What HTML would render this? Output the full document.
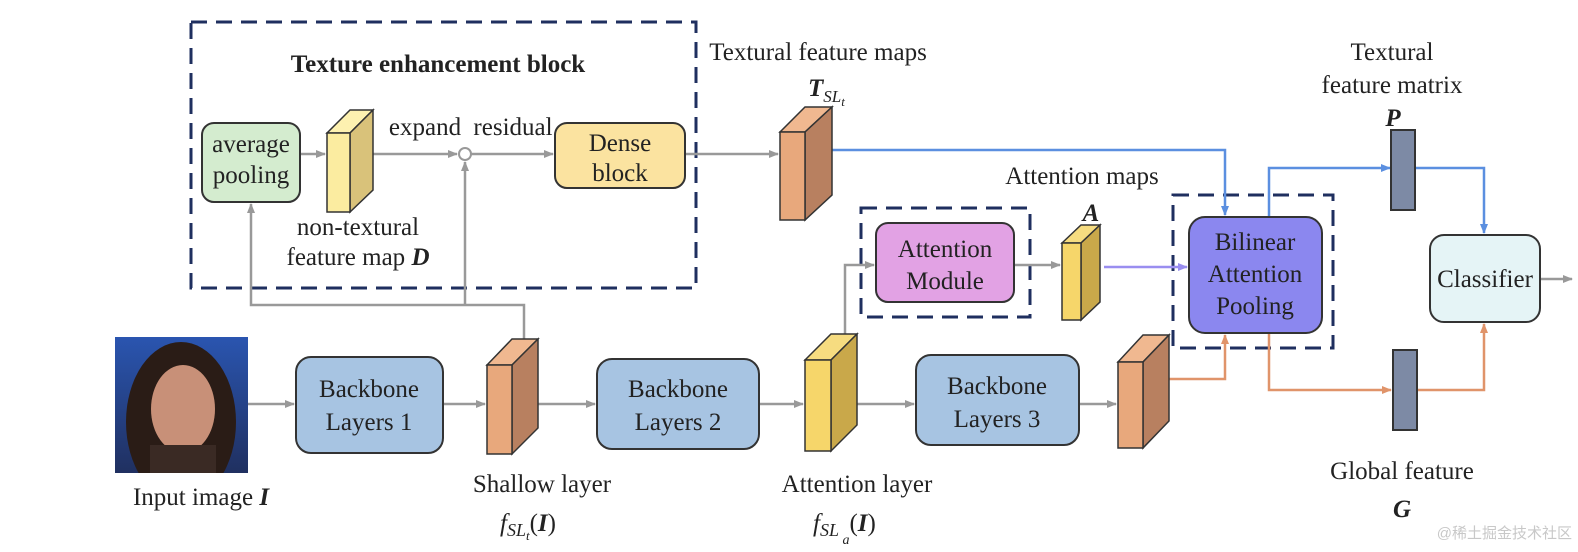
<!DOCTYPE html>
<html><head><meta charset="utf-8"><style>
html,body{margin:0;padding:0;background:#fff;}
svg{display:block;}
text{font-family:"Liberation Serif",serif;font-size:25px;fill:#222;}
</style></head><body>
<svg width="1578" height="552" viewBox="0 0 1578 552" xmlns="http://www.w3.org/2000/svg">
<defs>
<marker id="ag" markerWidth="10" markerHeight="10" refX="9" refY="5" orient="auto" markerUnits="userSpaceOnUse"><path d="M0,1 L10,5 L0,9 z" fill="#999"/></marker>
<marker id="ab" markerWidth="10" markerHeight="10" refX="9" refY="5" orient="auto" markerUnits="userSpaceOnUse"><path d="M0,1 L10,5 L0,9 z" fill="#5b8fe0"/></marker>
<marker id="ao" markerWidth="10" markerHeight="10" refX="9" refY="5" orient="auto" markerUnits="userSpaceOnUse"><path d="M0,1 L10,5 L0,9 z" fill="#e0946a"/></marker>
<marker id="ap" markerWidth="10" markerHeight="10" refX="9" refY="5" orient="auto" markerUnits="userSpaceOnUse"><path d="M0,1 L10,5 L0,9 z" fill="#9a8ef0"/></marker>
<linearGradient id="img" x1="0" y1="0" x2="0" y2="1"><stop offset="0" stop-color="#2a55b0"/><stop offset="1" stop-color="#203060"/></linearGradient>
</defs>
<g fill="none" stroke="#1f2f5f" stroke-width="3" stroke-dasharray="16,9">
<rect x="191" y="22" width="505" height="266"/>
<rect x="861" y="208" width="169" height="109"/>
<rect x="1173" y="195" width="160" height="153"/>
</g>
<text x="438" y="72" text-anchor="middle" font-weight="bold" font-size="26">Texture enhancement block</text>
<g stroke="#999" stroke-width="2.5" fill="none">
<line x1="300" y1="154" x2="325" y2="154" marker-end="url(#ag)"/>
<line x1="373" y1="154" x2="457" y2="154" marker-end="url(#ag)"/>
<line x1="471" y1="154" x2="553" y2="154" marker-end="url(#ag)"/>
<line x1="685" y1="154" x2="778" y2="154" marker-end="url(#ag)"/>
<polyline points="524,339 524,305 251,305 251,204" marker-end="url(#ag)"/>
<line x1="465" y1="305" x2="465" y2="162" marker-end="url(#ag)"/>
<polyline points="845,334 845,265 874,265" marker-end="url(#ag)"/>
<line x1="1014" y1="265" x2="1060" y2="265" marker-end="url(#ag)"/>
<line x1="248" y1="404" x2="294" y2="404" marker-end="url(#ag)"/>
<line x1="443" y1="404" x2="485" y2="404" marker-end="url(#ag)"/>
<line x1="538" y1="404" x2="595" y2="404" marker-end="url(#ag)"/>
<line x1="759" y1="404" x2="803" y2="404" marker-end="url(#ag)"/>
<line x1="857" y1="404" x2="914" y2="404" marker-end="url(#ag)"/>
<line x1="1079" y1="404" x2="1116" y2="404" marker-end="url(#ag)"/>
<line x1="1540" y1="279" x2="1572" y2="279" marker-end="url(#ag)"/>
</g>
<circle cx="465" cy="154" r="6" fill="#fff" stroke="#999" stroke-width="2"/>
<g stroke="#5b8fe0" stroke-width="2.5" fill="none">
<polyline points="832,150 1225,150 1225,215" marker-end="url(#ab)"/>
<polyline points="1269,217 1269,168 1390,168" marker-end="url(#ab)"/>
<polyline points="1416,168 1484,168 1484,233" marker-end="url(#ab)"/>
</g>
<line x1="1104" y1="267" x2="1187" y2="267" stroke="#9a8ef0" stroke-width="2.5" marker-end="url(#ap)"/>
<g stroke="#e0946a" stroke-width="2.5" fill="none">
<polyline points="1169,379 1225,379 1225,335" marker-end="url(#ao)"/>
<polyline points="1269,333 1269,390 1391,390" marker-end="url(#ao)"/>
<polyline points="1418,390 1484,390 1484,324" marker-end="url(#ao)"/>
</g>
<g stroke="#333" stroke-width="2">
<rect x="202" y="123" width="98" height="79" rx="12" fill="#d4eccf"/>
<rect x="555" y="123" width="130" height="65" rx="12" fill="#fbe3a0"/>
<rect x="876" y="223" width="138" height="79" rx="12" fill="#e2a2e4"/>
<rect x="1189" y="217" width="133" height="116" rx="16" fill="#8b87ef"/>
<rect x="1430" y="235" width="110" height="87" rx="14" fill="#e5f4f6"/>
<rect x="296" y="357" width="147" height="96" rx="15" fill="#a7c4e2"/>
<rect x="597" y="359" width="162" height="90" rx="15" fill="#a7c4e2"/>
<rect x="916" y="355" width="163" height="90" rx="15" fill="#a7c4e2"/>
<rect x="1391" y="130" width="24" height="80" fill="#7d8aa5"/>
<rect x="1393" y="350" width="24" height="80" fill="#7d8aa5"/>
</g>
<g stroke="#333" stroke-width="1.5">
<polygon points="327,133 350,110 373,110 350,133" fill="#fdf1b0"/>
<polygon points="350,133 373,110 373,190 350,212" fill="#d9c27a"/>
<rect x="327" y="133" width="23" height="79" fill="#fbeca0"/>
<polygon points="780,132 805,107 832,107 805,132" fill="#f0b890"/>
<polygon points="805,132 832,107 832,195 805,220" fill="#b88060"/>
<rect x="780" y="132" width="25" height="88" fill="#e8a87c"/>
<polygon points="1062,243 1081,225 1100,225 1081,243" fill="#f6dc80"/>
<polygon points="1081,243 1100,225 1100,302 1081,320" fill="#c9a84a"/>
<rect x="1062" y="243" width="19" height="77" fill="#f6d66a"/>
<polygon points="487,365 512,339 538,339 512,365" fill="#f0b890"/>
<polygon points="512,365 538,339 538,428 512,454" fill="#b88060"/>
<rect x="487" y="365" width="25" height="89" fill="#e8a87c"/>
<polygon points="805,360 831,334 857,334 831,360" fill="#f6dc80"/>
<polygon points="831,360 857,334 857,425 831,451" fill="#c9a84a"/>
<rect x="805" y="360" width="26" height="91" fill="#f6d66a"/>
<polygon points="1118,362 1143,335 1169,335 1143,362" fill="#f0b890"/>
<polygon points="1143,362 1169,335 1169,421 1143,448" fill="#b88060"/>
<rect x="1118" y="362" width="25" height="86" fill="#e8a87c"/>
</g>
<svg x="115" y="337" width="133" height="136">
<rect width="133" height="136" fill="url(#img)"/>
<ellipse cx="66" cy="85" rx="55" ry="80" fill="#2a1c16"/>
<ellipse cx="68" cy="72" rx="32" ry="44" fill="#c89078"/>
<rect x="35" y="108" width="66" height="30" fill="#3a2a24"/>
</svg>
<text x="251" y="152" text-anchor="middle">average</text>
<text x="251" y="183" text-anchor="middle">pooling</text>
<text x="620" y="151" text-anchor="middle">Dense</text>
<text x="620" y="181" text-anchor="middle">block</text>
<text x="425" y="135" text-anchor="middle">expand</text>
<text x="513" y="135" text-anchor="middle">residual</text>
<text x="358" y="235" text-anchor="middle">non-textural</text>
<text x="358" y="265" text-anchor="middle">feature map <tspan font-weight="bold" font-style="italic">D</tspan></text>
<text x="818" y="60" text-anchor="middle">Textural feature maps</text>
<text x="808" y="96" font-weight="bold" font-style="italic">T<tspan font-size="17" dy="6" font-weight="normal">SL</tspan><tspan font-size="13" dy="4" font-weight="normal">t</tspan></text>
<text x="1082" y="184" text-anchor="middle">Attention maps</text>
<text x="1091" y="221" text-anchor="middle" font-weight="bold" font-style="italic">A</text>
<text x="945" y="257" text-anchor="middle">Attention</text>
<text x="945" y="289" text-anchor="middle">Module</text>
<text x="1255" y="250" text-anchor="middle">Bilinear</text>
<text x="1255" y="282" text-anchor="middle">Attention</text>
<text x="1255" y="314" text-anchor="middle">Pooling</text>
<text x="1392" y="60" text-anchor="middle">Textural</text>
<text x="1392" y="93" text-anchor="middle">feature matrix</text>
<text x="1393" y="126" text-anchor="middle" font-weight="bold" font-style="italic">P</text>
<text x="1485" y="287" text-anchor="middle">Classifier</text>
<text x="369" y="397" text-anchor="middle">Backbone</text>
<text x="369" y="430" text-anchor="middle">Layers 1</text>
<text x="678" y="397" text-anchor="middle">Backbone</text>
<text x="678" y="430" text-anchor="middle">Layers 2</text>
<text x="997" y="394" text-anchor="middle">Backbone</text>
<text x="997" y="427" text-anchor="middle">Layers 3</text>
<text x="201" y="505" text-anchor="middle">Input image <tspan font-weight="bold" font-style="italic">I</tspan></text>
<text x="542" y="492" text-anchor="middle">Shallow layer</text>
<text x="500" y="531" font-style="italic">f<tspan font-size="18" dy="5">SL</tspan><tspan font-size="13" dy="4">t</tspan><tspan dy="-9" font-style="normal">(</tspan><tspan font-weight="bold">I</tspan><tspan font-style="normal">)</tspan></text>
<text x="857" y="492" text-anchor="middle">Attention layer</text>
<text x="813" y="531" font-style="italic">f<tspan font-size="18" dy="5">SL</tspan><tspan font-size="14" dy="8"> a</tspan><tspan dy="-13" font-style="normal">(</tspan><tspan font-weight="bold">I</tspan><tspan font-style="normal">)</tspan></text>
<text x="1402" y="479" text-anchor="middle">Global feature</text>
<text x="1402" y="517" text-anchor="middle" font-weight="bold" font-style="italic">G</text>
<text x="1572" y="538" text-anchor="end" style="font-family:'Liberation Sans','Noto Sans CJK SC',sans-serif;font-size:15px;fill:#c8c8c8">@稀土掘金技术社区</text>
</svg>
</body></html>
